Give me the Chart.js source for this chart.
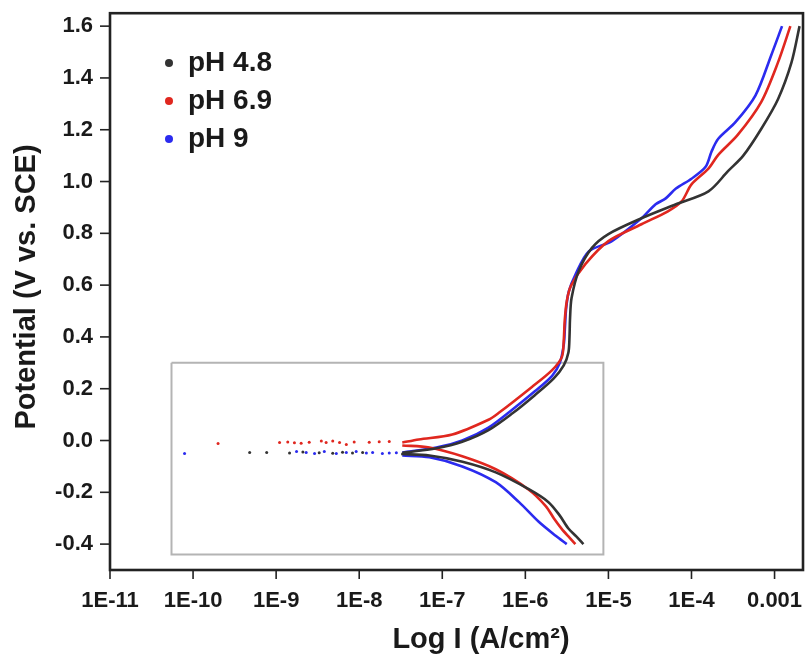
<!DOCTYPE html>
<html>
<head>
<meta charset="utf-8">
<title>Potentiodynamic polarization</title>
<script src="https://cdn.jsdelivr.net/npm/chart.js@4.4.0/dist/chart.umd.min.js"></script>
<style>
  html, body { margin: 0; padding: 0; background: #fff; }
  #wrap { width: 807px; height: 657px; }
</style>
</head>
<body>
<div id="wrap"><canvas id="tafel" width="807" height="657"></canvas></div>
<script>
// current density (A/cm2) against potential (V vs. SCE)
const seriesNames = ['pH 4.8', 'pH 6.9', 'pH 9'];
const seriesColors = ['#333333', '#e0271f', '#2b2bef'];

// cathodic branches, from -0.4 V up towards Ecorr
const cathI_48 = [5.0e-6, 4.1e-6, 3.3e-6, 2.6e-6, 1.9e-6, 1.1e-6, 4.4e-7, 1.75e-7, 7.0e-8, 3.2e-8];
const cathE_48 = [-0.40, -0.37, -0.34, -0.29, -0.238, -0.188, -0.123, -0.082, -0.058, -0.052];
const cathI_69 = [4.0e-6, 3.4e-6, 2.74e-6, 2.2e-6, 1.76e-6, 1.1e-6, 4.4e-7, 1.74e-7, 7.0e-8, 3.3e-8];
const cathE_69 = [-0.40, -0.375, -0.341, -0.30, -0.253, -0.19, -0.111, -0.061, -0.027, -0.019];
const cathI_9 = [3.15e-6, 2.32e-6, 1.45e-6, 8.4e-7, 4.4e-7, 1.74e-7, 7.0e-8, 3.3e-8];
const cathE_9 = [-0.40, -0.368, -0.314, -0.238, -0.161, -0.10, -0.065, -0.058];

// anodic branches, from Ecorr up to 1.6 V
const anodI_48 = [3.3e-8, 8.5e-8, 1.74e-7, 3.6e-7, 7.0e-7, 1.3e-6, 2.2e-6, 2.9e-6, 3.3e-6, 3.4e-6, 3.45e-6, 3.6e-6,
  4.4e-6, 6.3e-6, 1.0e-5, 2.5e-5, 6.5e-5, 1.6e-4, 2.75e-4, 4.2e-4, 6.9e-4, 1.1e-3, 1.6e-3, 2.0e-3];
const anodE_48 = [-0.048, -0.03, -0.005, 0.04, 0.105, 0.175, 0.24, 0.29, 0.34, 0.40, 0.47, 0.55,
  0.655, 0.743, 0.797, 0.858, 0.912, 0.962, 1.04, 1.10, 1.203, 1.318, 1.46, 1.60];
const anodI_69 = [3.3e-8, 5.2e-8, 1.32e-7, 3.6e-7, 4.8e-7, 1.2e-6, 2.1e-6, 2.75e-6, 2.9e-6, 2.98e-6, 3.16e-6, 3.55e-6,
  5.3e-6, 1.0e-5, 2.5e-5, 5.2e-5, 7.6e-5, 1.0e-4, 1.6e-4, 2.1e-4, 3.6e-4, 6.9e-4, 1.1e-3, 1.55e-3];
const anodE_69 = [-0.008, 0.004, 0.023, 0.08, 0.107, 0.207, 0.272, 0.322, 0.387, 0.464, 0.54, 0.598,
  0.682, 0.77, 0.835, 0.885, 0.923, 0.989, 1.05, 1.103, 1.18, 1.307, 1.46, 1.60];
const anodI_9 = [3.3e-8, 8.5e-8, 1.74e-7, 3.6e-7, 7.0e-7, 1.3e-6, 2.1e-6, 2.6e-6, 2.9e-6, 3.0e-6, 3.1e-6, 3.33e-6,
  4.0e-6, 5.8e-6, 1.1e-5, 2.5e-5, 3.7e-5, 4.9e-5, 6.5e-5, 1.0e-4, 1.48e-4, 1.74e-4, 2.1e-4, 3.4e-4, 5.9e-4, 9.1e-4, 1.23e-3];
const anodE_9 = [-0.046, -0.027, 0.0, 0.05, 0.12, 0.19, 0.25, 0.30, 0.37, 0.44, 0.51, 0.575,
  0.64, 0.73, 0.77, 0.858, 0.912, 0.935, 0.973, 1.011, 1.057, 1.115, 1.165, 1.23, 1.333, 1.487, 1.60];

// scattered points around Ecorr
const dotI_48 = [4.8e-10, 7.7e-10, 1.45e-9, 2.1e-9, 3.3e-9, 4.8e-9, 6.3e-9, 8.3e-9, 1.1e-8];
const dotE_48 = [-0.046, -0.046, -0.048, -0.044, -0.047, -0.049, -0.045, -0.048, -0.046];
const dotI_69 = [2.0e-10, 1.1e-9, 1.38e-9, 1.66e-9, 2.0e-9, 2.5e-9, 3.5e-9, 4.0e-9, 4.8e-9, 5.8e-9, 7.0e-9,
  8.7e-9, 1.32e-8, 1.74e-8, 2.3e-8];
const dotE_69 = [-0.012, -0.008, -0.006, -0.009, -0.011, -0.007, -0.002, -0.008, -0.002, -0.008, -0.015,
  -0.006, -0.007, -0.005, -0.004];
const dotI_9 = [7.9e-11, 1.76e-9, 2.3e-9, 2.9e-9, 3.8e-9, 5.3e-9, 7.0e-9, 9.2e-9, 1.22e-8, 1.45e-8, 1.9e-8,
  2.3e-8, 2.8e-8];
const dotE_9 = [-0.05, -0.042, -0.046, -0.05, -0.042, -0.05, -0.046, -0.042, -0.048, -0.046, -0.05,
  -0.048, -0.047];

// grey frame drawn around the Tafel region
const boxI = [5.5e-11, 8.7e-6, 8.7e-6, 5.5e-11, 5.5e-11];
const boxE = [0.30, 0.30, -0.44, -0.44, 0.30];

// axis ticks
const xTickValues = [1e-11, 1e-10, 1e-9, 1e-8, 1e-7, 1e-6, 1e-5, 1e-4, 1e-3];
const xTickLabels = ['1E-11', '1E-10', '1E-9', '1E-8', '1E-7', '1E-6', '1E-5', '1E-4', '0.001'];
const yTickValues = [-0.4, -0.2, 0.0, 0.2, 0.4, 0.6, 0.8, 1.0, 1.2, 1.4, 1.6];
const yTickLabels = ['-0.4', '-0.2', '0.0', '0.2', '0.4', '0.6', '0.8', '1.0', '1.2', '1.4', '1.6'];
const yMin = -0.5, yMax = 1.65, yMinorStep = 0.1;

const FONT = '"Liberation Sans", Arial, Helvetica, sans-serif';
const INK = '#1a1a1a';

const pts = (xs, ys) => xs.map((v, i) => ({ x: v, y: ys[i] }));

const curve = (xs, ys, color) => ({
  data: pts(xs, ys),
  showLine: true,
  borderColor: color,
  borderWidth: 2.6,
  tension: 0.3,
  pointRadius: 0
});

const dots = (xs, ys, color) => ({
  data: pts(xs, ys),
  showLine: false,
  pointRadius: 1.5,
  pointBorderWidth: 0,
  pointBackgroundColor: color
});

// mantissa of a log-scale tick value
const mantissa = v => v / Math.pow(10, Math.floor(Math.log10(v) + 1e-9));

const axisPlugin = {
  id: 'axisFrame',
  afterDatasetsDraw(chart) {
    const { ctx, chartArea: a, scales: { x, y } } = chart;
    ctx.save();
    ctx.strokeStyle = '#222';
    ctx.lineWidth = 1.6;

    x.ticks.forEach(t => {
      const px = x.getPixelForValue(t.value);
      if (px < a.left - 0.5 || px > a.right - 1.5) return;
      const m = mantissa(t.value);
      if (Math.abs(m - Math.round(m)) > 1e-6) return; // skip the 1.5 steps
      const major = Math.round(m) === 1 || Math.round(m) === 10;
      ctx.beginPath();
      ctx.moveTo(px, a.bottom);
      ctx.lineTo(px, a.bottom + (major ? 9 : 5));
      ctx.stroke();
    });

    y.ticks.forEach(t => {
      const k = Math.round(t.value * 10);
      if (Math.abs(t.value * 10 - k) > 1e-6) return;
      const py = y.getPixelForValue(t.value);
      if (py > a.bottom - 1 || py < a.top + 1) return;
      const major = k % 2 === 0;
      ctx.beginPath();
      ctx.moveTo(a.left, py);
      ctx.lineTo(a.left - (major ? 10 : 5), py);
      ctx.stroke();
    });

    ctx.lineWidth = 2.6;
    ctx.strokeRect(a.left, a.top, a.right - a.left, a.bottom - a.top);
    ctx.restore();
  },
  afterDraw(chart) {
    const { ctx } = chart;
    ctx.save();
    ctx.fillStyle = INK;

    // legend
    ctx.font = `bold 28px ${FONT}`;
    ctx.textAlign = 'left';
    ctx.textBaseline = 'middle';
    seriesNames.forEach((name, i) => {
      const yy = 63 + i * 38;
      ctx.fillStyle = seriesColors[i];
      ctx.beginPath();
      ctx.arc(169, yy, 4, 0, Math.PI * 2);
      ctx.fill();
      ctx.fillStyle = INK;
      ctx.fillText(name, 188, yy);
    });

    // axis titles
    ctx.font = `bold 29px ${FONT}`;
    ctx.textAlign = 'center';
    ctx.fillText('Log I (A/cm\u00B2)', 481, 640);
    ctx.translate(27, 287);
    ctx.rotate(-Math.PI / 2);
    ctx.fillText('Potential (V vs. SCE)', 0, 0);
    ctx.restore();
  }
};

const datasets = [
  curve(cathI_48, cathE_48, seriesColors[0]),
  curve(anodI_48, anodE_48, seriesColors[0]),
  dots(dotI_48, dotE_48, seriesColors[0]),
  curve(cathI_69, cathE_69, seriesColors[1]),
  curve(anodI_69, anodE_69, seriesColors[1]),
  dots(dotI_69, dotE_69, seriesColors[1]),
  curve(cathI_9, cathE_9, seriesColors[2]),
  curve(anodI_9, anodE_9, seriesColors[2]),
  dots(dotI_9, dotE_9, seriesColors[2]),
  {
    data: pts(boxI, boxE),
    showLine: true,
    borderColor: '#b4b4b4',
    borderWidth: 2,
    tension: 0,
    pointRadius: 0,
    order: 1
  }
];

new Chart(document.getElementById('tafel'), {
  type: 'scatter',
  data: { datasets },
  options: {
    responsive: false,
    animation: false,
    devicePixelRatio: 1,
    layout: { padding: { top: 11, right: 2, left: 0, bottom: 0 } },
    plugins: { legend: { display: false }, tooltip: { enabled: false } },
    scales: {
      x: {
        type: 'logarithmic',
        position: 'bottom',
        min: 1e-11,
        max: 2.2e-3,
        afterFit: s => { s.height = 87; },
        grid: { display: false, drawTicks: true, tickLength: 18 },
        border: { display: false },
        ticks: {
          autoSkip: false,
          maxRotation: 0,
          minRotation: 0,
          padding: 0,
          color: INK,
          font: { family: FONT, size: 22, weight: 'bold' },
          callback: v => {
            const i = xTickValues.findIndex(t => Math.abs(Math.log10(t) - Math.log10(v)) < 1e-6);
            return i >= 0 ? xTickLabels[i] : null;
          }
        }
      },
      y: {
        type: 'linear',
        min: yMin,
        max: yMax,
        afterFit: s => { s.width = 110; },
        afterBuildTicks: s => {
          const ticks = [];
          for (let k = Math.round(yMin / yMinorStep); k * yMinorStep <= yMax + 1e-9; k++) {
            ticks.push({ value: k / 10 });
          }
          ticks.push({ value: yMax });
          s.ticks = ticks;
        },
        grid: { display: false, drawTicks: true, tickLength: 17 },
        border: { display: false },
        ticks: {
          autoSkip: false,
          padding: 0,
          color: INK,
          font: { family: FONT, size: 22, weight: 'bold' },
          callback: v => {
            const i = yTickValues.findIndex(t => Math.abs(t - v) < 1e-6);
            return i >= 0 ? yTickLabels[i] : null;
          }
        }
      }
    }
  },
  plugins: [axisPlugin]
});
</script>
</body>
</html>
